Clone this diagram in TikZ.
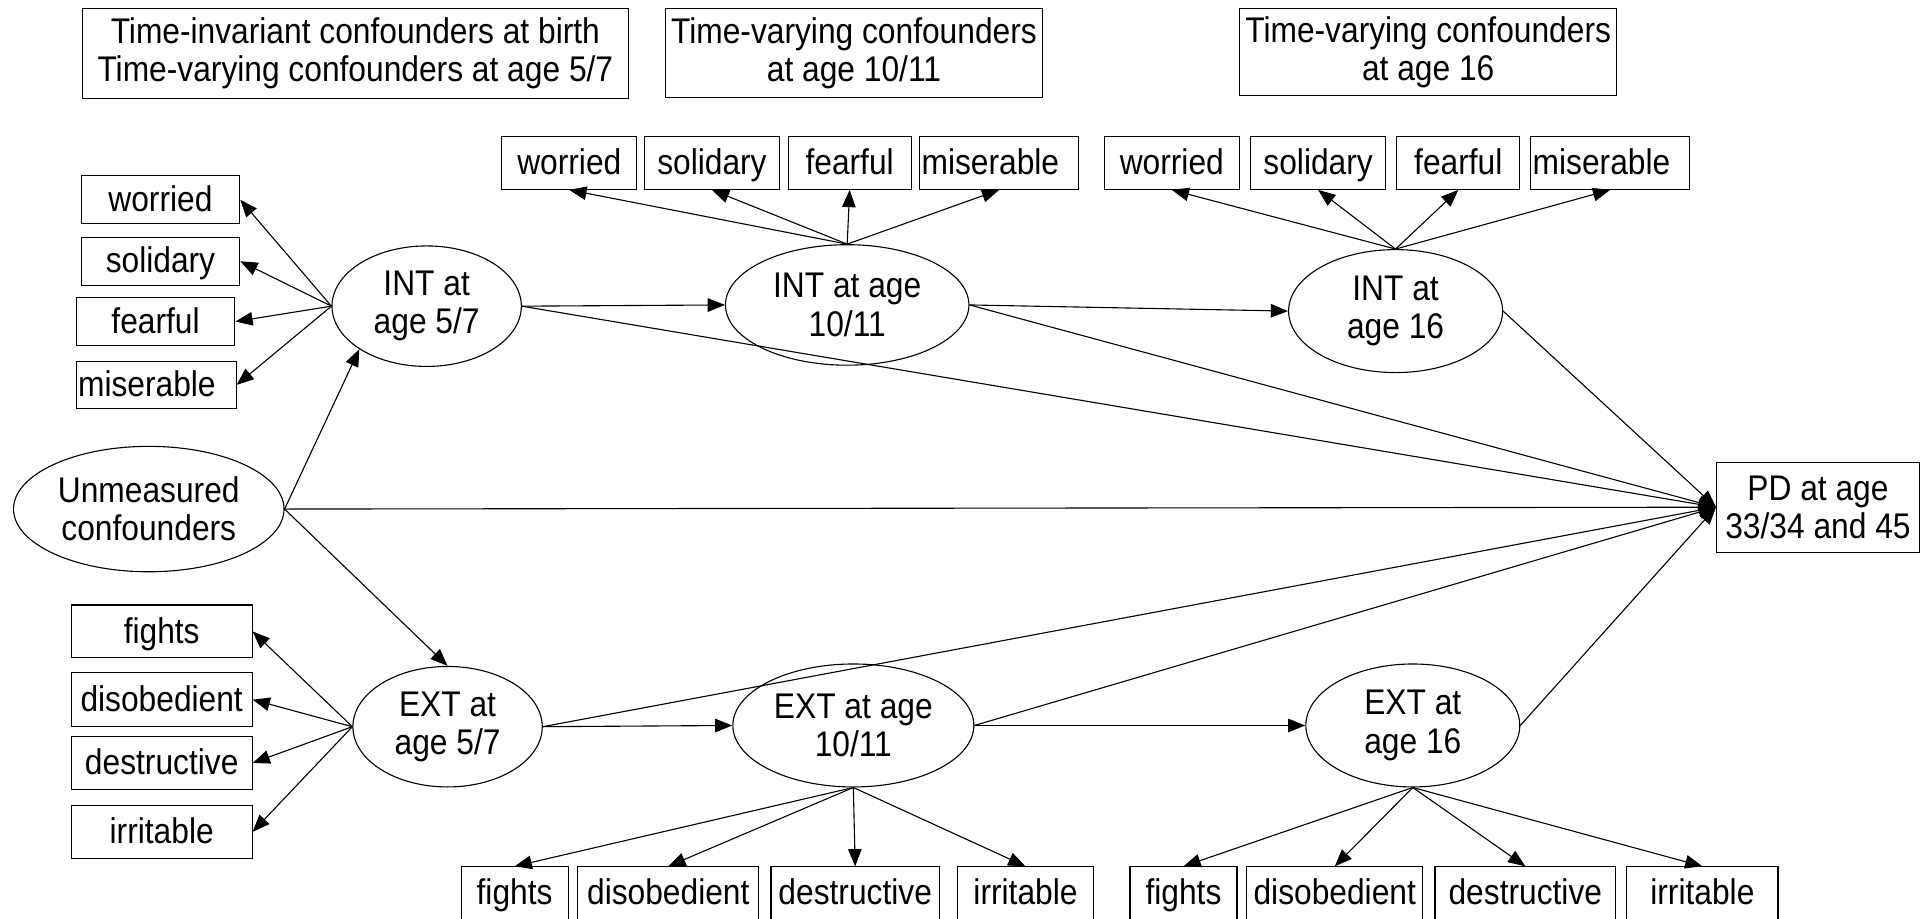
\documentclass[tikz,border=0pt]{standalone}
\usepackage{fontspec}
\setmainfont{Liberation Sans}[FakeStretch=0.89]
\usetikzlibrary{arrows.meta,shapes.geometric}
\begin{document}
\begin{tikzpicture}[x=1pt,y=-1pt,
  every node/.style={font=\fontsize{29}{31}\selectfont, align=center, inner sep=0pt},
  box/.style 2 args={draw, line width=0.9pt, minimum width=#1, minimum height=#2},
  ind/.style 2 args={box={#1}{#2}, text height=23pt, text depth=4pt},
  lind/.style 2 args={draw, line width=0.9pt, text width=#1-3pt, align=left, inner xsep=1.5pt,
    minimum height=#2, text height=23pt, text depth=4pt},
  lat/.style 2 args={draw, ellipse, line width=0.9pt, minimum width=#1, minimum height=#2},
  link/.style={line width=0.9pt, -{Triangle[length=14pt,width=11pt]}}
]
\useasboundingbox (0,0) rectangle (1568,747);

% confounder headers
\node[box={444pt}{73pt}] (c1) at (289,43.5) {Time-invariant confounders at birth\\Time-varying confounders at age 5/7};
\node[box={307pt}{72pt}] (c2) at (694.5,43) {Time-varying confounders\\at age 10/11};
\node[box={307pt}{71pt}] (c3) at (1161.5,42.5) {Time-varying confounders\\at age 16};

% latent variables
\node[lat={154pt}{98pt}] (int1) at (347,249) {INT at\\age 5/7};
\node[lat={198pt}{98pt}] (int2) at (689,248) {INT at age\\10/11};
\node[lat={174pt}{100pt}] (int3) at (1135,253) {INT at\\age 16};
\node[lat={220pt}{102pt}] (u) at (121,414) {Unmeasured\\confounders};
\node[lat={154pt}{98pt}] (ext1) at (364,591) {EXT at\\age 5/7};
\node[lat={196pt}{100pt}] (ext2) at (694,590) {EXT at age\\10/11};
\node[lat={174pt}{100pt}] (ext3) at (1149,590) {EXT at\\age 16};

% outcome
\node[box={165pt}{73pt}] (pd) at (1478.5,412.5) {PD at age\\33/34 and 45};

% INT indicators, age 5/7
\node[ind={129pt}{39pt}] (iw1) at (130.5,162.5) {worried};
\node[ind={129pt}{39pt}] (is1) at (130.5,212.5) {solidary};
\node[ind={129pt}{39pt}] (if1) at (126.5,261.5) {fearful};
\node[lind={130pt}{38pt}] (im1) at (127,313) {miserable};

% INT indicators, age 10/11
\node[ind={110pt}{43pt}] (iw2) at (463,132.5) {worried};
\node[ind={110pt}{43pt}] (is2) at (579,132.5) {solidary};
\node[ind={100pt}{43pt}] (if2) at (691,132.5) {fearful};
\node[lind={129pt}{43pt}] (im2) at (812.5,132.5) {miserable};

% INT indicators, age 16
\node[ind={110pt}{43pt}] (iw3) at (953,132.5) {worried};
\node[ind={110pt}{43pt}] (is3) at (1072,132.5) {solidary};
\node[ind={100pt}{43pt}] (if3) at (1186,132.5) {fearful};
\node[lind={129pt}{43pt}] (im3) at (1309.5,132.5) {miserable};

% EXT indicators, age 5/7
\node[ind={147pt}{43pt}] (ef1) at (131.5,513.5) {fights};
\node[ind={147pt}{44pt}] (ed1) at (131.5,569) {disobedient};
\node[ind={147pt}{43pt}] (es1) at (131.5,620.5) {destructive};
\node[ind={147pt}{43pt}] (ei1) at (131.5,676.5) {irritable};

% EXT indicators, age 10/11
\node[ind={87pt}{43pt}] (ef2) at (418.5,726.5) {fights};
\node[ind={147pt}{43pt}] (ed2) at (543.5,726.5) {disobedient};
\node[ind={137pt}{43pt}] (es2) at (695.5,726.5) {destructive};
\node[ind={110pt}{43pt}] (ei2) at (834,726.5) {irritable};

% EXT indicators, age 16
\node[ind={87pt}{43pt}] (ef3) at (962.5,726.5) {fights};
\node[ind={143pt}{43pt}] (ed3) at (1085.5,726.5) {disobedient};
\node[ind={147pt}{43pt}] (es3) at (1240.5,726.5) {destructive};
\node[ind={123pt}{43pt}] (ei3) at (1384.5,726.5) {irritable};

% measurement arrows
\foreach \b in {iw1,is1,if1,im1} \draw[link] (int1.west) -- (\b.east);
\foreach \b in {iw2,is2,if2,im2} \draw[link] (int2.north) -- (\b.south);
\foreach \b in {iw3,is3,if3,im3} \draw[link] (int3.north) -- (\b.south);
\foreach \b in {ef1,ed1,es1,ei1} \draw[link] (ext1.west) -- (\b.east);
\foreach \b in {ef2,ed2,es2,ei2} \draw[link] (ext2.south) -- (\b.north);
\foreach \b in {ef3,ed3,es3,ei3} \draw[link] (ext3.south) -- (\b.north);

% structural paths
\draw[link] (u.east) -- (int1.south west);
\draw[link] (u.east) -- (ext1.north);
\draw[link] (int1.east) -- (int2.west);
\draw[link] (int2.east) -- (int3.west);
\draw[link] (ext1.east) -- (ext2.west);
\draw[link] (ext2.east) -- (ext3.west);
\foreach \s in {u,int1,int2,int3,ext1,ext2,ext3} \draw[link] (\s.east) -- (pd.west);
\end{tikzpicture}
\end{document}
